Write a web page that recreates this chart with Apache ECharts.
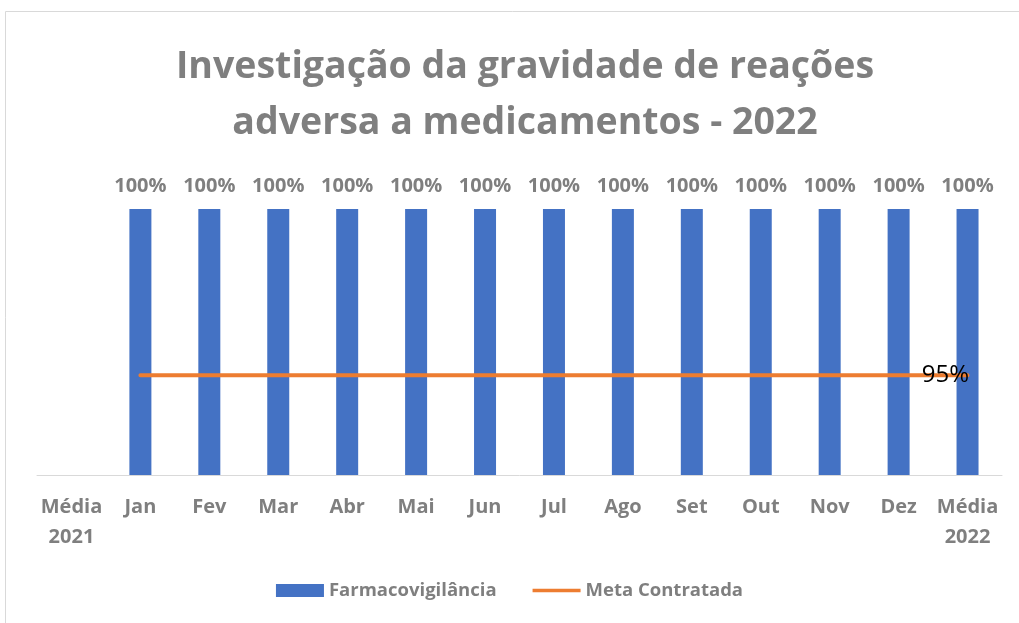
<!DOCTYPE html>
<html>
<head>
<meta charset="utf-8">
<script src="https://cdn.jsdelivr.net/npm/echarts@6/dist/echarts.min.js"></script>
<style>
  html, body { margin: 0; padding: 0; background: #fff; }
  #main { width: 1019px; height: 623px; }
</style>
</head>
<body>
<div id="main"></div>
<script>
// dados
var categorias = ['Média\n2021', 'Jan', 'Fev', 'Mar', 'Abr', 'Mai', 'Jun', 'Jul', 'Ago', 'Set', 'Out', 'Nov', 'Dez', 'Média\n2022'];
var farmacovigilancia = [null, 100, 100, 100, 100, 100, 100, 100, 100, 100, 100, 100, 100, 100];
var metaContratada = [null, 95, 95, 95, 95, 95, 95, 95, 95, 95, 95, 95, 95, 95];

var cinza = '#7f7f7f';
var fonte = '"Open Sans", "Noto Sans", sans-serif';

var chart = echarts.init(document.getElementById('main'));

// so o ultimo ponto da meta leva simbolo (invisivel) e o rotulo
var metaData = metaContratada.map(function (v, i) {
  if (i === metaContratada.length - 1) {
    return {
      value: v,
      symbol: 'circle',
      symbolSize: 1,
      label: {
        show: true, position: 'left', distance: -2,
        formatter: function (p) { return p.value + '%'; },
        color: '#000', fontSize: 24, fontWeight: 'normal', fontFamily: fonte
      }
    };
  }
  return v;
});

var option = {
  animation: false,
  textStyle: { fontFamily: fonte },
  title: {
    text: 'Investigação da gravidade de reações\nadversa a medicamentos - 2022',
    left: 520,
    top: 34,
    textAlign: 'center',
    textStyle: {
      color: cinza, fontSize: 37.5, fontWeight: 'bold', lineHeight: 56, fontFamily: fonte
    }
  },
  graphic: [{
    type: 'rect',
    shape: { x: 5.5, y: 11.5, width: 1030, height: 640 },
    style: { fill: 'none', stroke: '#d9d9d9', lineWidth: 1 },
    silent: true
  }],
  legend: {
    bottom: 18,
    left: 'center',
    itemWidth: 48,
    itemHeight: 13,
    itemGap: 36,
    textStyle: { color: cinza, fontSize: 18.5, fontWeight: 'bold', fontFamily: fonte },
    data: [
      { name: 'Farmacovigilância', icon: 'rect' },
      { name: 'Meta Contratada', icon: 'path://M0,0 M0,13 M0,4.5 L52,4.5 L52,8.5 L0,8.5 Z' }
    ]
  },
  grid: { left: 37, right: 17, top: 209, bottom: 148 },
  xAxis: {
    type: 'category',
    data: categorias,
    axisLine: { lineStyle: { color: '#d9d9d9', width: 1 } },
    axisTick: { show: false },
    axisLabel: {
      color: cinza, fontSize: 20, fontWeight: 'bold', lineHeight: 30,
      margin: 17, interval: 0, fontFamily: fonte
    }
  },
  yAxis: {
    type: 'value',
    min: 92,
    max: 100,
    show: false,
    splitLine: { show: false }
  },
  series: [
    {
      name: 'Farmacovigilância',
      type: 'bar',
      data: farmacovigilancia,
      barWidth: 22,
      itemStyle: { color: '#4472c4' },
      label: {
        show: true, position: 'top', distance: 13,
        formatter: function (p) { return p.value + '%'; },
        color: cinza, fontSize: 20, fontWeight: 'bold', fontFamily: fonte
      }
    },
    {
      name: 'Meta Contratada',
      type: 'line',
      data: metaData,
      symbol: 'none',
      itemStyle: { color: '#ed7d31' },
      lineStyle: { color: '#ed7d31', width: 4, cap: 'round' },
      z: 5
    }
  ]
};

chart.setOption(option);
</script>
</body>
</html>
